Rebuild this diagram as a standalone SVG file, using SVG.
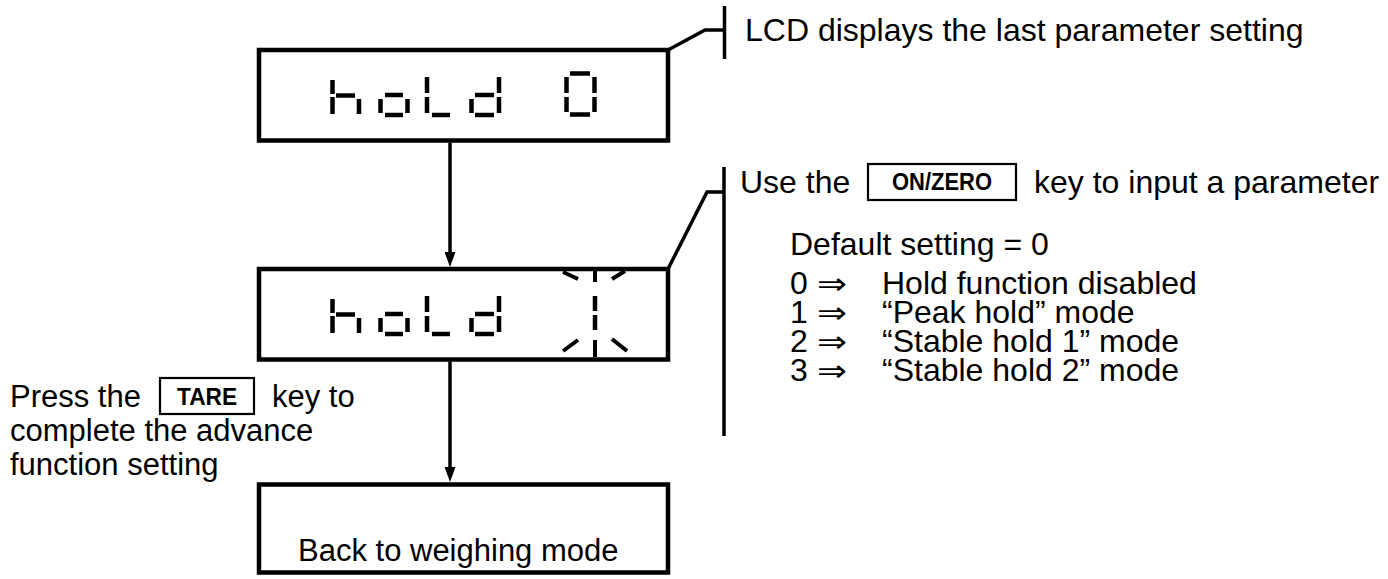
<svg xmlns="http://www.w3.org/2000/svg" width="1388" height="579" viewBox="0 0 1388 579">
<defs>
<style>
.t{font-family:"Liberation Sans",Arial,sans-serif;font-size:31px;fill:#000}
.r{font-family:"Liberation Sans",Arial,sans-serif;font-size:32px;fill:#000}
.ar{font-family:"DejaVu Sans","Liberation Sans",sans-serif;font-size:30px;fill:#000}
.k{font-family:"Liberation Sans",Arial,sans-serif;font-size:24px;font-weight:bold;fill:#000;text-anchor:middle}
.box{fill:#fff;stroke:#000;stroke-width:4.5}
.kb{fill:none;stroke:#000;stroke-width:2.2}
.seg{stroke:#000;stroke-width:4.5;fill:none}
.ray{stroke:#000;stroke-width:4;fill:none}
.ln{stroke:#000;stroke-width:3.5;fill:none}
</style>
<marker id="ah" markerUnits="userSpaceOnUse" viewBox="0 0 15 11" refX="5" refY="5.5" markerWidth="15" markerHeight="11" orient="auto">
<path d="M0,0 L15,5.5 L0,11 Z" fill="#000"/>
</marker>
<g id="hold">
<line class="seg" x1="332.5" y1="80" x2="332.5" y2="94"/>
<line class="seg" x1="332.5" y1="97" x2="332.5" y2="114"/>
<line class="seg" x1="336" y1="95.5" x2="355" y2="95.5"/>
<line class="seg" x1="359" y1="99" x2="359" y2="114"/>
<line class="seg" x1="380.5" y1="99" x2="380.5" y2="113"/>
<line class="seg" x1="407.5" y1="99" x2="407.5" y2="113"/>
<line class="seg" x1="385" y1="95" x2="403" y2="95"/>
<line class="seg" x1="385" y1="115" x2="403" y2="115"/>
<line class="seg" x1="427" y1="77" x2="427" y2="93"/>
<line class="seg" x1="427" y1="97" x2="427" y2="113"/>
<line class="seg" x1="432" y1="115" x2="450" y2="115"/>
<line class="seg" x1="471.5" y1="99" x2="471.5" y2="113"/>
<line class="seg" x1="499" y1="77" x2="499" y2="93"/>
<line class="seg" x1="499" y1="97" x2="499" y2="113"/>
<line class="seg" x1="475" y1="95" x2="494" y2="95"/>
<line class="seg" x1="475" y1="115" x2="494" y2="115"/>
</g>
</defs>
<rect width="1388" height="579" fill="#fff"/>

<g id="connectors">
<line class="ln" x1="450" y1="142.5" x2="450" y2="257" marker-end="url(#ah)"/>
<line class="ln" x1="450" y1="361.5" x2="450" y2="472" marker-end="url(#ah)"/>
<polyline class="ln" points="668,50 705,30 724.5,30"/>
<line class="ln" x1="724.5" y1="6" x2="724.5" y2="59"/>
<polyline class="ln" points="668,269 707,192 724,192"/>
<line class="ln" x1="724" y1="167" x2="724" y2="436"/>
</g>

<g id="node-lcd1">
<rect class="box" x="259" y="50" width="409" height="90.5"/>
<use href="#hold"/>
<line class="seg" x1="566.5" y1="77" x2="566.5" y2="93"/>
<line class="seg" x1="566.5" y1="97" x2="566.5" y2="112"/>
<line class="seg" x1="594.5" y1="77" x2="594.5" y2="93"/>
<line class="seg" x1="594.5" y1="97" x2="594.5" y2="112"/>
<line class="seg" x1="570" y1="73.5" x2="590" y2="73.5"/>
<line class="seg" x1="570" y1="114.5" x2="590" y2="114.5"/>
</g>

<g id="node-lcd2">
<rect class="box" x="259" y="269" width="409" height="90.5"/>
<use href="#hold" y="219"/>
<line class="seg" x1="595" y1="296" x2="595" y2="311"/>
<line class="seg" x1="595" y1="315" x2="595" y2="330"/>
<line class="ray" x1="595" y1="271" x2="595" y2="282"/>
<line class="ray" x1="595" y1="340" x2="595" y2="357"/>
<line class="ray" x1="563" y1="272" x2="578" y2="279"/>
<line class="ray" x1="612" y1="279" x2="625" y2="271"/>
<line class="ray" x1="563" y1="351" x2="578" y2="340"/>
<line class="ray" x1="612" y1="339" x2="627" y2="351"/>
</g>

<g id="node-back">
<rect class="box" x="259" y="484.5" width="409" height="88"/>
<text class="t" x="298" y="561">Back to weighing mode</text>
</g>

<g id="note-lcd">
<text class="r" x="745" y="41">LCD displays the last parameter setting</text>
</g>

<g id="note-onzero">
<text class="r" x="740" y="193">Use the</text>
<rect class="kb" x="868" y="164" width="148" height="36"/>
<text class="k" x="942" y="190" textLength="100" lengthAdjust="spacingAndGlyphs">ON/ZERO</text>
<text class="r" x="1034" y="193">key to input a parameter</text>
<text class="r" x="790" y="255">Default setting = 0</text>
<text class="r" x="790" y="294">0<tspan class="ar" x="817" textLength="30" lengthAdjust="spacingAndGlyphs">⇒</tspan><tspan x="882">Hold function disabled</tspan></text>
<text class="r" x="790" y="323">1<tspan class="ar" x="817" textLength="30" lengthAdjust="spacingAndGlyphs">⇒</tspan><tspan x="882">“Peak hold” mode</tspan></text>
<text class="r" x="790" y="352">2<tspan class="ar" x="817" textLength="30" lengthAdjust="spacingAndGlyphs">⇒</tspan><tspan x="882">“Stable hold 1” mode</tspan></text>
<text class="r" x="790" y="381">3<tspan class="ar" x="817" textLength="30" lengthAdjust="spacingAndGlyphs">⇒</tspan><tspan x="882">“Stable hold 2” mode</tspan></text>
</g>

<g id="note-tare">
<text class="t" x="10" y="407">Press the</text>
<rect class="kb" x="160" y="378" width="94" height="36"/>
<text class="k" x="207" y="405" textLength="60" lengthAdjust="spacingAndGlyphs">TARE</text>
<text class="t" x="272" y="407">key to</text>
<text class="t" x="10" y="441">complete the advance</text>
<text class="t" x="10" y="475">function setting</text>
</g>
</svg>
